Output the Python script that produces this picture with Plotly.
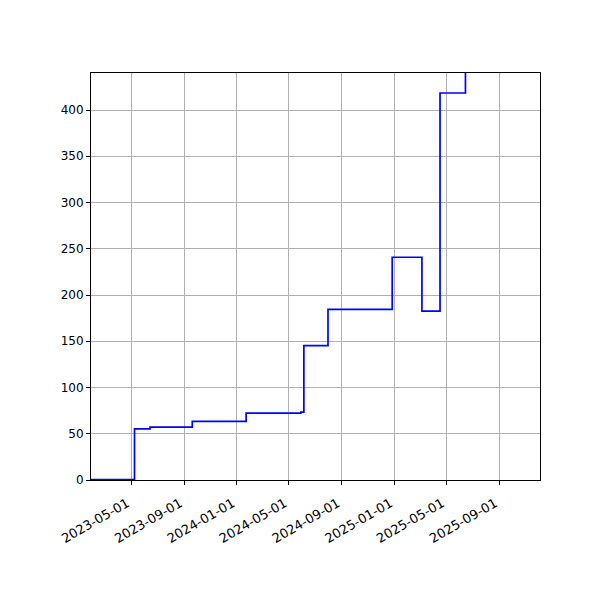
import plotly.graph_objects as go

# step series (value holds until the next date)
step_dates = [
    "2023-01-28", "2023-05-09", "2023-06-14", "2023-09-20", "2024-01-23",
    "2024-05-29", "2024-06-05", "2024-07-31", "2024-12-27", "2025-03-06",
    "2025-04-17", "2025-06-15",
]
step_values = [0.5, 55.3, 57.1, 63.3, 72.2, 73.3, 145.2, 184.4, 240.8, 182.6, 418.4, 600.0]

x_ticks = [
    "2023-05-01", "2023-09-01", "2024-01-01", "2024-05-01",
    "2024-09-01", "2025-01-01", "2025-05-01", "2025-09-01",
]
y_ticks = [0, 50, 100, 150, 200, 250, 300, 350, 400]

fig = go.Figure()

fig.add_trace(
    go.Scatter(
        x=step_dates,
        y=step_values,
        mode="lines",
        line=dict(color="#0000ff", width=1.7, shape="hv"),
        showlegend=False,
    )
)

axis_style = dict(
    showline=True,
    linecolor="black",
    linewidth=1,
    mirror=True,
    ticks="outside",
    ticklen=4,
    tickcolor="black",
    showgrid=True,
    gridcolor="#b0b0b0",
    gridwidth=1,
    zeroline=False,
)

fig.update_xaxes(
    axis_style,
    type="date",
    range=["2023-01-28", "2025-12-05"],
    tickvals=x_ticks,
    ticktext=x_ticks,
    tickangle=-30,
    ticklabelstandoff=6,
    ticklabelshift=-4,
    tickfont=dict(family="DejaVu Sans", size=13, color="black"),
)
fig.update_yaxes(
    axis_style,
    range=[0, 440],
    tickvals=y_ticks,
    tickfont=dict(family="DejaVu Sans", size=12, color="black"),
)

# the page body adds 8px, so margins are shifted by that much
fig.update_layout(
    width=600,
    height=600,
    margin=dict(l=83, r=68, t=65, b=128),
    paper_bgcolor="white",
    plot_bgcolor="white",
    font=dict(family="DejaVu Sans", size=12, color="black"),
)

fig.write_html("out.html")
